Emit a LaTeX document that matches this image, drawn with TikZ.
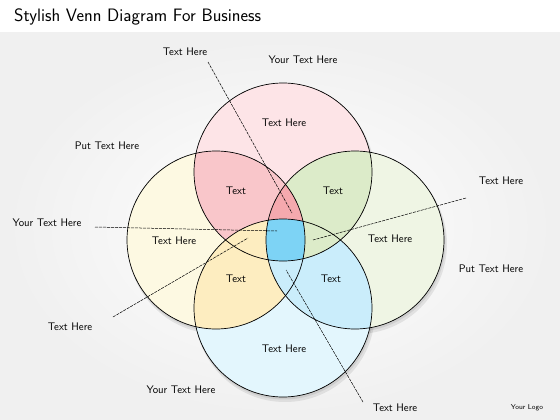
\documentclass[tikz,border=0pt]{standalone}
\usepackage{tikz}
\usetikzlibrary{positioning}
\definecolor{pinkA}{HTML}{FDE4E7}
\definecolor{pinkB}{HTML}{F9C6CA}
\definecolor{pinkC}{HTML}{F5A9AE}
\definecolor{greenA}{HTML}{EFF5E4}
\definecolor{greenB}{HTML}{DCEBC9}
\definecolor{yellowA}{HTML}{FDF9E2}
\definecolor{yellowB}{HTML}{FDEDC0}
\definecolor{blueA}{HTML}{E3F6FD}
\definecolor{blueB}{HTML}{CAEDFB}
\definecolor{core}{HTML}{7DD3F5}
\begin{document}
\begin{tikzpicture}
  [x=1pt,y=-1pt,
   every node/.style={font=\sffamily\fontsize{11}{13}\selectfont,inner sep=1pt},
   leader/.style={line width=0.5pt,dash pattern=on 3pt off 1pt},
   rim/.style={line width=0.7pt}]
\useasboundingbox (0,0) rectangle (560,420);
\fill [white] (0,0) rectangle (560,420);
\shade [inner color=white,outer color=black!6] (0,34) rectangle (560,420);
\fill [black!6] (0,32) rectangle (560,35);

\coordinate (pk) at (283,172);
\coordinate (yl) at (216,240);
\coordinate (gr) at (355,240);
\coordinate (bl) at (283,308);

\foreach \c in {pk,yl,gr,bl} {
  \fill [black,opacity=0.08] ([shift={(2,4)}]\c) circle (90);
  \fill [black,opacity=0.08] ([shift={(1,2)}]\c) circle (89.5);
}

\fill [yellowA] (yl) circle (89);
\fill [greenA]  (gr) circle (89);
\fill [blueA]   (bl) circle (89);
\fill [pinkA]   (pk) circle (89);

\begin{scope} \clip (pk) circle (89); \fill [pinkB] (yl) circle (89); \end{scope}
\begin{scope} \clip (yl) circle (89); \fill [yellowB] (bl) circle (89); \end{scope}
\begin{scope} \clip (gr) circle (89); \fill [blueB] (bl) circle (89); \end{scope}
\begin{scope} \clip (pk) circle (89); \fill [greenB] (gr) circle (89); \end{scope}
\begin{scope} \clip (pk) circle (89); \clip (yl) circle (89);
  \fill [pinkC] (gr) circle (89); \end{scope}
\begin{scope} \clip (pk) circle (89); \clip (yl) circle (89); \clip (gr) circle (89);
  \fill [core] (bl) circle (89); \end{scope}

\foreach \c in {pk,yl,gr,bl}
  \draw [rim] (\c) circle (89);

\node [anchor=west,font=\sffamily\fontsize{18}{21}\selectfont] (title) at (13,17)
  {Stylish Venn Diagram For Business};

\node [] (tl)  at (185,52)  {Text Here};
\node [] (ptop) at (303,60) {Your Text Here};
\node [] (pin) at (284,123) {Text Here};
\node [] (pl)  at (107,146) {Put Text Here};
\node [] (py)  at (236,191) {Text};
\node [] (pg)  at (333,191) {Text};
\node [] (tr)  at (501,181) {Text Here};
\node [] (yl1) at (47,223)  {Your Text Here};
\node [] (yin) at (174,241) {Text Here};
\node [] (gin) at (390,239) {Text Here};
\node [] (pr)  at (491,269) {Put Text Here};
\node [] (yb)  at (236,279) {Text};
\node [] (gb)  at (331,279) {Text};
\node [] (bll) at (70,327)  {Text Here};
\node [] (bin) at (284,349) {Text Here};
\node [] (yb2) at (181,390) {Your Text Here};
\node [] (br)  at (395,408) {Text Here};
\node [font=\sffamily\fontsize{7}{8}\selectfont] (logo) at (527,408) {Your Logo};

\coordinate (a0) at (208,62);  \coordinate (a1) at (292,213);
\coordinate (b0) at (95,227);  \coordinate (b1) at (277,231);
\coordinate (c0) at (113,317); \coordinate (c1) at (248,238);
\coordinate (d0) at (466,198); \coordinate (d1) at (313,240);
\coordinate (e0) at (363,402); \coordinate (e1) at (286,270);

\draw [leader] (a0) -- (a1) (b0) -- (b1) (c0) -- (c1)
               (d0) -- (d1) (e0) -- (e1) ;
\end{tikzpicture}
\end{document}
